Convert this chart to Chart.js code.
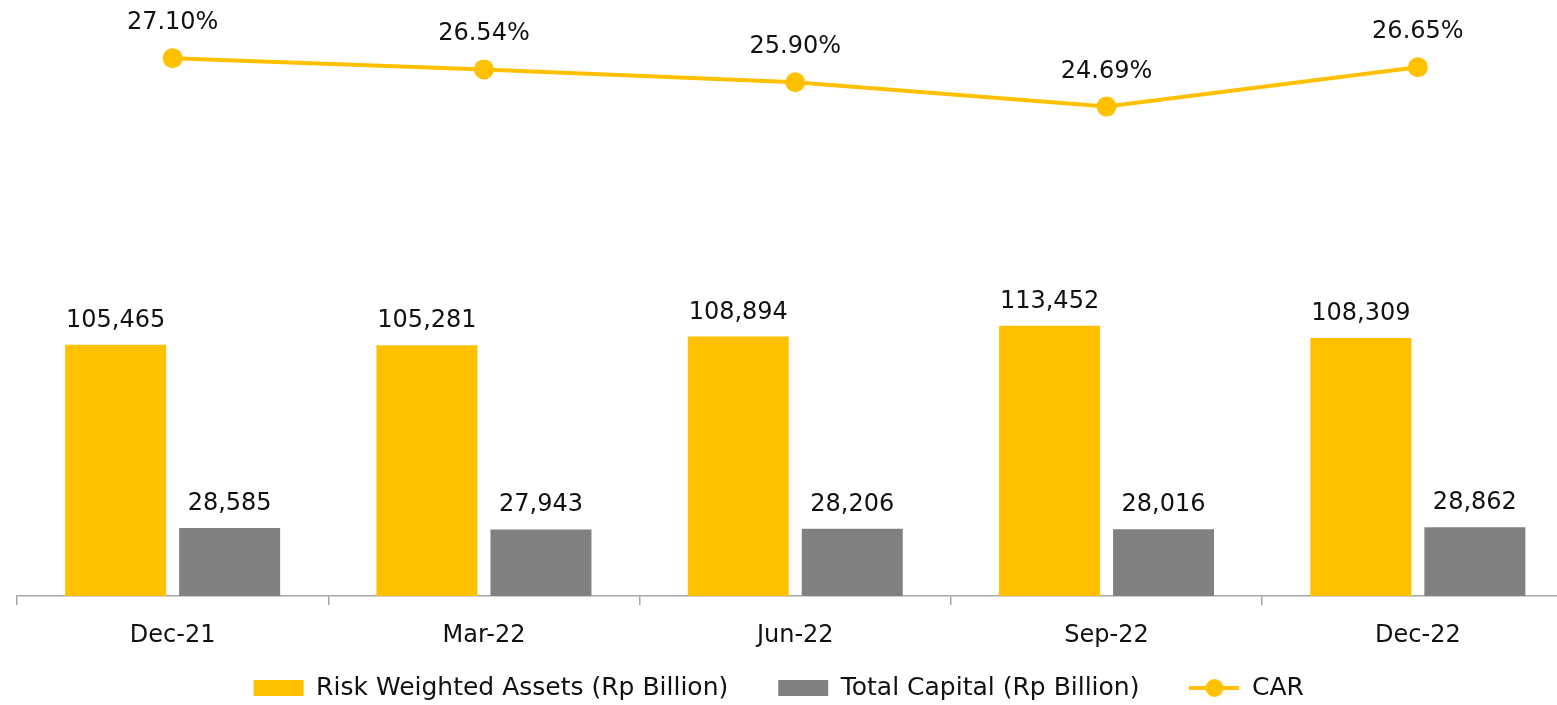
<!DOCTYPE html>
<html>
<head>
<meta charset="utf-8">
<script src="https://cdn.jsdelivr.net/npm/chart.js@4.4.0/dist/chart.umd.min.js"></script>
<style>
html,body{margin:0;padding:0;background:#ffffff;overflow:hidden}
#wrap{width:1557px;height:705px;position:relative;overflow:hidden}
</style>
</head>
<body>
<div id="wrap"><canvas id="c" width="1600" height="705"></canvas></div>
<script>
// ---- data ----
const categories = ['Dec-21', 'Mar-22', 'Jun-22', 'Sep-22', 'Dec-22'];
const rwaValues = [105465, 105281, 108894, 113452, 108309];
const capitalValues = [28585, 27943, 28206, 28016, 28862];
const carValues = [27.10, 26.54, 25.90, 24.69, 26.65];
const seriesNames = ['Risk Weighted Assets (Rp Billion)', 'Total Capital (Rp Billion)', 'CAR'];

// ---- styles ----
const YELLOW = '#FFC000';
const GREY = '#808080';
const TEXT = '#111111';
const FONT = 'DejaVu Sans';
const FS = 24;
const LEGEND_FS = 25;

Chart.defaults.font.family = FONT;
Chart.defaults.color = TEXT;

// legend symbol for the line series (line with a marker)
const carSymbol = document.createElement('canvas');
carSymbol.width = 50; carSymbol.height = 20;
(function(){
  const g = carSymbol.getContext('2d');
  g.strokeStyle = YELLOW; g.lineWidth = 4;
  g.beginPath(); g.moveTo(0, 10); g.lineTo(50, 10); g.stroke();
  g.fillStyle = YELLOW; g.beginPath(); g.arc(25, 10, 9, 0, Math.PI * 2); g.fill();
})();

const valueLabels = {
  id: 'valueLabels',
  afterDatasetsDraw(chart) {
    const ctx = chart.ctx;
    ctx.save();
    ctx.font = FS + 'px "' + FONT + '"';
    ctx.fillStyle = TEXT;
    ctx.textAlign = 'center';
    ctx.textBaseline = 'alphabetic';
    chart.data.datasets.forEach((ds, i) => {
      const meta = chart.getDatasetMeta(i);
      meta.data.forEach((el, j) => {
        const v = ds.data[j];
        const isLine = ds.type === 'line';
        const txt = isLine ? v.toFixed(2) + '%' : v.toLocaleString('en-US');
        ctx.fillText(txt, el.x, el.y - (isLine ? 29 : 18));
      });
    });
    ctx.restore();
  }
};

// place the legend row: centred on the visible page, text centre near the bottom
const legendPlace = {
  id: 'legendPlace',
  afterLayout(chart) {
    const l = chart.legend;
    if (!l) return;
    const dx = -16.5;
    l.left += dx; l.right += dx;
    const h = l.bottom - l.top;
    l.top = 625.5; l.bottom = l.top + h;
  }
};

new Chart(document.getElementById('c'), {
  data: {
    labels: categories,
    datasets: [
      {
        type: 'line', label: seriesNames[2], data: carValues, yAxisID: 'y2', order: 0,
        borderColor: YELLOW, backgroundColor: YELLOW, borderWidth: 4,
        pointRadius: 10, pointHoverRadius: 10, pointBackgroundColor: YELLOW, pointBorderWidth: 0,
        pointStyle: 'circle', tension: 0, fill: false
      },
      {
        type: 'bar', label: seriesNames[0], data: rwaValues, yAxisID: 'y', order: 1,
        backgroundColor: YELLOW, borderWidth: 0, pointStyle: 'rect',
        categoryPercentage: 0.7324, barPercentage: 0.886
      },
      {
        type: 'bar', label: seriesNames[1], data: capitalValues, yAxisID: 'y', order: 1,
        backgroundColor: GREY, borderWidth: 0, pointStyle: 'rect',
        categoryPercentage: 0.7324, barPercentage: 0.886
      }
    ]
  },
  options: {
    responsive: false,
    animation: false,
    devicePixelRatio: 1,
    layout: { padding: { left: 17, right: 26.5, top: 0, bottom: -46 } },
    plugins: {
      tooltip: { enabled: false },
      legend: {
        position: 'bottom',
        align: 'center',
        labels: {
          usePointStyle: true,
          pointStyleWidth: 50,
          boxHeight: 16,
          padding: 50,
          color: TEXT,
          font: { family: FONT, size: LEGEND_FS },
          generateLabels(chart) {
            const items = Chart.defaults.plugins.legend.labels.generateLabels(chart);
            items.forEach(it => {
              if (chart.data.datasets[it.datasetIndex].type === 'line') {
                it.pointStyle = carSymbol;
              } else {
                it.pointStyle = 'rect';
                it.lineWidth = 0;
              }
            });
            items.sort((a, b) => (a.datasetIndex === 0) - (b.datasetIndex === 0) || a.datasetIndex - b.datasetIndex);
            return items;
          }
        }
      }
    },
    scales: {
      x: {
        offset: true,
        grid: { offset: true, drawOnChartArea: false, drawTicks: true, tickLength: 9, color: '#a6a6a6', lineWidth: 1.5 },
        border: { display: true, color: '#a6a6a6', width: 1.5 },
        ticks: { color: TEXT, font: { family: FONT, size: FS }, padding: 16 },
        afterFit(s) { s.height = 70; }
      },
      y: { display: false, min: 0, max: 246000, position: 'left' },
      y2: { display: false, min: 0.31, max: 29.5, position: 'right', grid: { display: false } }
    }
  },
  plugins: [valueLabels, legendPlace]
});
</script>
</body>
</html>
